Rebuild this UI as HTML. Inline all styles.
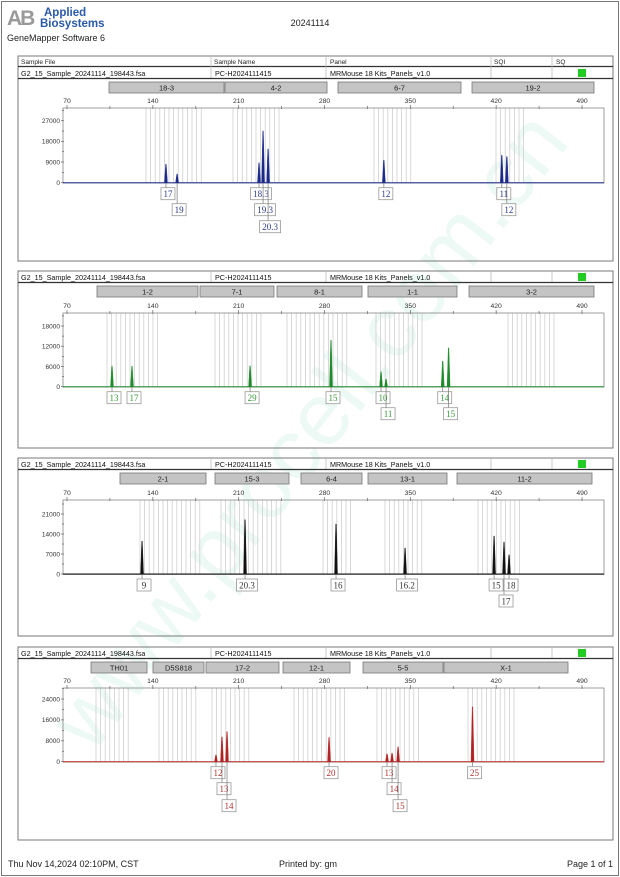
<!DOCTYPE html>
<html><head><meta charset="utf-8"><style>
body{margin:0;background:#fff;width:620px;height:877px;overflow:hidden;font-family:"Liberation Sans",sans-serif}
svg{display:block}
</style></head><body>
<svg id="pg" width="620" height="877" viewBox="0 0 620 877" xmlns="http://www.w3.org/2000/svg">
<rect x="1.5" y="1.5" width="617" height="874" fill="none" stroke="#777"/>
<g>
<text x="7" y="25" font-size="21" font-weight="bold" fill="#9a9a9a" letter-spacing="-2">AB</text>
<text x="44" y="16" font-size="11.5" font-weight="bold" fill="#2a5aa8">Applied</text>
<text x="40" y="27" font-size="11.5" font-weight="bold" fill="#2a5aa8">Biosystems</text>
</g>
<text x="7" y="41" font-size="9" fill="#222">GeneMapper Software 6</text>
<text x="310" y="26" font-size="9" fill="#222" text-anchor="middle">20241114</text>
<text x="308" y="115" font-size="88" fill="rgba(0,170,100,0.07)" text-anchor="middle" transform="rotate(-52 308 430) translate(0 345)">www.procell.com.cn</text>
<text x="8" y="867" font-size="9" fill="#222">Thu Nov 14,2024 02:10PM, CST</text>
<text x="308" y="867" font-size="9" fill="#222" text-anchor="middle">Printed by: gm</text>
<text x="613" y="867" font-size="9" fill="#222" text-anchor="end">Page 1 of 1</text>
<g id="panels"></g>
</svg>
<script>
// ---- chart data ----
const xTickLabels = [70,140,210,280,350,420,490];
const p1Bins = ["18-3","4-2","6-7","19-2"];
const p1BinRanges = [[109,224],[225,327],[338,461],[472,594]];
const p1Ticks = [0,9000,18000,27000];
const p1PeakBp = [150.7,159.8,226.6,229.9,234.0,328.4,424.6,428.7];
const p1PeakH  = [8100,3800,8700,22500,14700,9800,12000,11400];
const p1Labels = ["17","19","18.3","19.3","20.3","12","11","12"];
const p1Rows   = [0,1,0,1,2,0,0,1];

const p2Bins = ["1-2","7-1","8-1","1-1","3-2"];
const p2BinRanges = [[97,198],[200,274],[277,362],[368,457],[469,594]];
const p2Ticks = [0,6000,12000,18000];
const p2PeakBp = [106.7,123.0,219.3,285.3,326.1,330.2,376.4,381.2];
const p2PeakH  = [6100,6100,6200,13800,4400,2300,7600,11500];
const p2Labels = ["13","17","29","15","10","11","14","15"];
const p2Rows   = [0,0,0,0,0,1,0,1];

const p3Bins = ["2-1","15-3","6-4","13-1","11-2"];
const p3BinRanges = [[120,206],[215,289],[301,362],[368,447],[457,592]];
const p3Ticks = [0,7000,14000,21000];
const p3PeakBp = [131.2,215.2,289.4,345.7,418.3,426.4,430.5];
const p3PeakH  = [11500,19000,17500,9100,13300,11200,6700];
const p3Labels = ["9","20.3","16","16.2","15","17","18"];
const p3Rows   = [0,0,0,0,0,1,0];

const p4Bins = ["TH01","D5S818","17-2","12-1","5-5","X-1"];
const p4BinRanges = [[91,147],[153,204],[206,279],[283,350],[363,443],[444,568]];
const p4Ticks = [0,8000,16000,24000];
const p4PeakBp = [191.5,196.4,200.5,283.7,331.0,335.1,340.0,400.7];
const p4PeakH  = [2600,9500,11500,9300,3000,3300,5700,21000];
const p4Labels = ["12","13","14","20","13","14","15","25"];
const p4Rows   = [0,1,2,0,0,1,2,0];

// ---- layout ----
const NS="http://www.w3.org/2000/svg";
const PX0=63, PX1=604;
function xScale(bp){return 67+(bp-70)*(582-67)/420;}
function mk(tag,attrs,parent){const e=document.createElementNS(NS,tag);for(const k in attrs)e.setAttribute(k,attrs[k]);parent.appendChild(e);return e;}
const root=document.getElementById('panels');

const panels=[
 {top:56,bottom:261,header:true,bins:p1Bins,ranges:p1BinRanges,ticks:p1Ticks,tickTopVal:27000,tickTopY:120.7,base:182.7,ptop:108,pbot:183,bp:p1PeakBp,h:p1PeakH,lab:p1Labels,rows:p1Rows,color:"#1b2a8a",lcol:"#2a3a8a",
  grey:[[146,202],[233,281],[374,413],[496,528]]},
 {top:271,bottom:448,header:false,bins:p2Bins,ranges:p2BinRanges,ticks:p2Ticks,tickTopVal:18000,tickTopY:326,base:386.7,ptop:313,pbot:387,bp:p2PeakBp,h:p2PeakH,lab:p2Labels,rows:p2Rows,color:"#1f8a2a",lcol:"#3a9a3a",
  grey:[[107,162],[215,261],[287,351],[376,425],[508,557]]},
 {top:458,bottom:636,header:false,bins:p3Bins,ranges:p3BinRanges,ticks:p3Ticks,tickTopVal:21000,tickTopY:514,base:574,ptop:500,pbot:574.5,bp:p3PeakBp,h:p3PeakH,lab:p3Labels,rows:p3Rows,color:"#111",lcol:"#333",
  grey:[[140,202],[221,281],[323,353],[385,422],[478,520]]},
 {top:647,bottom:840,header:false,bins:p4Bins,ranges:p4BinRanges,ticks:p4Ticks,tickTopVal:24000,tickTopY:699,base:761.7,ptop:688,pbot:762,bp:p4PeakBp,h:p4PeakH,lab:p4Labels,rows:p4Rows,color:"#b22222",lcol:"#b03030",
  grey:[[96,130],[159,196],[212,252],[294,348],[377,422],[468,518]]}
];

panels.forEach((P,pi)=>{
  const g=mk('g',{},root);
  
  
  const box=mk('rect',{x:18,y:P.top,width:595,height:P.bottom-P.top,fill:'none',stroke:'#777','stroke-width':1},g);
  
  
  let rowY=P.top;
  if(P.header){
    const hdr=[["Sample File",21],["Sample Name",214],["Panel",330],["SQI",494],["SQ",556]];
    hdr.forEach(([t,x])=>{const e=mk('text',{x:x,y:P.top+8,'font-size':6.5,fill:'#222'},g);e.textContent=t;
      
      });
    mk('line',{x1:18,x2:613,y1:P.top+10.5,y2:P.top+10.5,stroke:'#333','stroke-width':1.2},g);
    rowY=P.top+11;
  }
  [211,326,491,552].forEach(x=>mk('line',{x1:x,x2:x,y1:P.top,y2:rowY+11,stroke:'#bbb','stroke-width':0.8},g));
  const cells=[["G2_15_Sample_20241114_198443.fsa",21],["PC-H2024111415",215],["MRMouse 18 Kits_Panels_v1.0",330]];
  cells.forEach(([t,x],ci)=>{const e=mk('text',{x:x,y:rowY+9,'font-size':7.2,fill:'#111'},g);e.textContent=t;
    
    });
  const sq=mk('rect',{x:578,y:rowY+2,width:8,height:8,fill:'#22cc22'},g);
  
  
  mk('line',{x1:18,x2:613,y1:rowY+11.5,y2:rowY+11.5,stroke:'#333','stroke-width':1.2},g);
  const by=rowY+15;
  P.bins.forEach((b,i)=>{
    const r=P.ranges[i];
    const rc=mk('rect',{x:r[0],y:by,width:r[1]-r[0],height:11,fill:'#c4c4c4',stroke:'#777','stroke-width':0.8},g);
    
    
    const t=mk('text',{x:(r[0]+r[1])/2,y:by+8.5,'font-size':7.5,'text-anchor':'middle',fill:'#222'},g);t.textContent=b;
    
    
  });
  P.grey.forEach(([a,b])=>{for(let x=a;x<=b;x+=4.6){mk('line',{x1:x,x2:x,y1:P.ptop,y2:P.pbot,stroke:'#cfcfcf','stroke-width':0.8},g);}});
  const pb=mk('rect',{x:PX0,y:P.ptop,width:PX1-PX0,height:P.pbot-P.ptop,fill:'none',stroke:'#888','stroke-width':0.8},g);
  
  
  xTickLabels.forEach(v=>{
    const x=xScale(v);
    const t=mk('text',{x:x,y:P.ptop-5,'font-size':6.8,'text-anchor':'middle',fill:'#333'},g);t.textContent=v;
    
    
    mk('line',{x1:x,x2:x,y1:P.ptop-3,y2:P.ptop+1,stroke:'#666','stroke-width':0.7},g);
    const xm=xScale(v+35); if(xm<PX1) mk('line',{x1:xm,x2:xm,y1:P.ptop-2,y2:P.ptop+1,stroke:'#666','stroke-width':0.7},g);
  });
  const ys=v=>P.base-(P.base-P.tickTopY)*v/P.tickTopVal;
  const step=P.ticks[1];
  P.ticks.forEach(v=>{
    const y=ys(v);
    const t=mk('text',{x:PX0-3,y:y+2.3,'font-size':6.5,'text-anchor':'end',fill:'#333'},g);t.textContent=v;
    
    
    mk('line',{x1:PX0-2,x2:PX0+1,y1:y,y2:y,stroke:'#666','stroke-width':0.7},g);
    const ym=ys(v+step/2); if(ym>P.ptop) mk('line',{x1:PX0-1,x2:PX0+1,y1:ym,y2:ym,stroke:'#666','stroke-width':0.7},g);
  });
  const bl=mk('line',{x1:PX0,x2:PX1,y1:P.base,y2:P.base,stroke:P.color,'stroke-width':1},g);
  
  
  const rowTop=[P.base+5,P.base+21,P.base+38];
  P.bp.forEach((bp,i)=>{
    const x=xScale(bp), top=ys(P.h[i]);
    const pk=mk('path',{d:`M${x-1.5},${P.base} L${x-0.3},${top} L${x+0.3},${top} L${x+1.5},${P.base} Z`,fill:P.color,stroke:P.color,'stroke-width':0.4},g);
    
    
    const r=P.rows[i], lbl=P.lab[i];
    const w=lbl.length>2?21:14, cx=x+2, by2=rowTop[r];
    mk('line',{x1:x,x2:x,y1:P.base,y2:by2,stroke:'#777','stroke-width':0.7},g);
    const lb=mk('rect',{x:cx-w/2,y:by2,width:w,height:12,fill:'#fff',stroke:'#999','stroke-width':0.8},g);
    
    
    const t=mk('text',{x:cx,y:by2+9.3,'font-size':9,'text-anchor':'middle',fill:P.lcol,'font-family':'Liberation Serif, serif'},g);t.textContent=lbl;
    
    
  });
});
</script>
</body></html>
